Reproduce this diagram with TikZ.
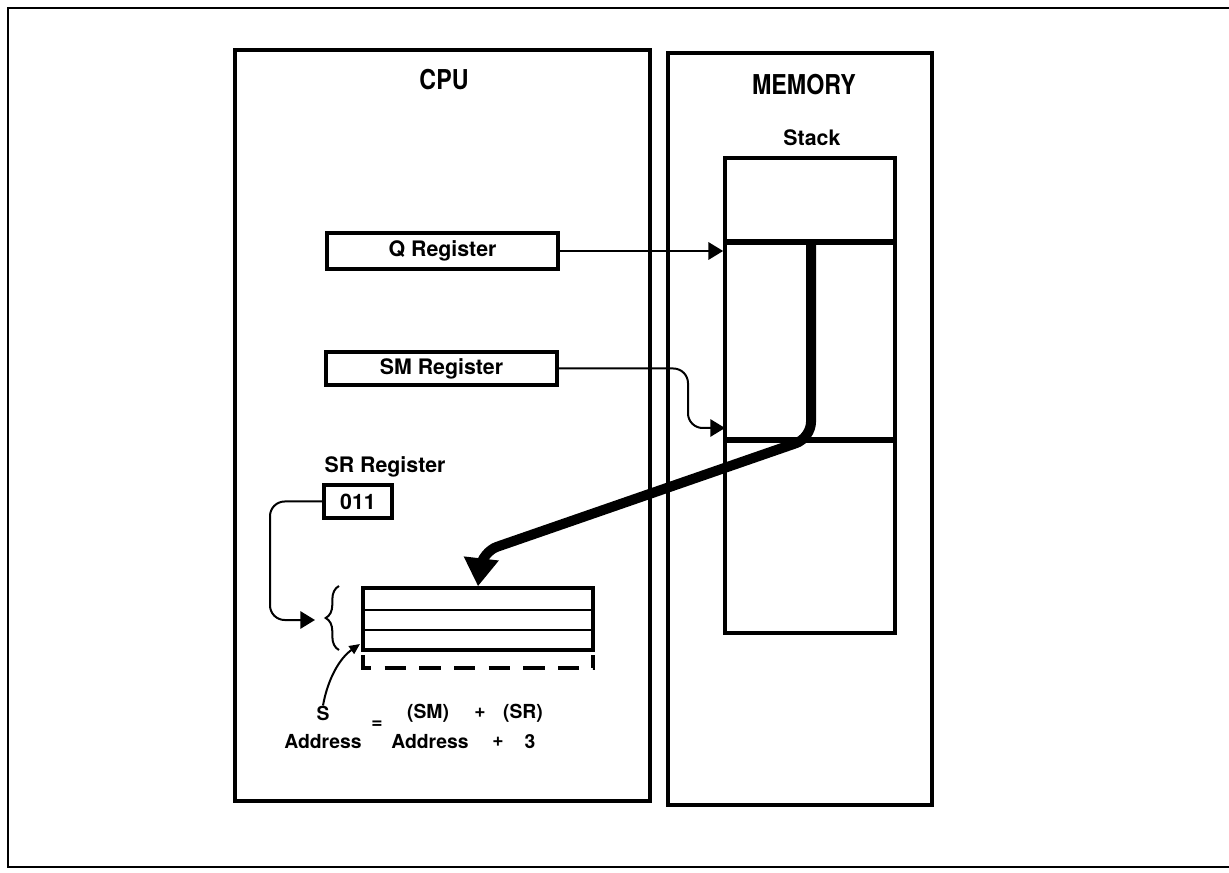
\documentclass[tikz,border=0pt]{standalone}
\usepackage{fontspec}
\setmainfont{TeX Gyre Heros}
\newfontfamily\titlefont{TeX Gyre Heros}[FakeStretch=0.85]
\usetikzlibrary{arrows.meta,decorations.pathreplacing}

\tikzset{
  regbox/.style={draw, line width=2.6pt, inner sep=0pt, font=\fontsize{16}{18}\selectfont\bfseries},
  lbl/.style={inner sep=0pt, font=\fontsize{16}{18}\selectfont\bfseries},
  eqn/.style={inner sep=0pt, font=\fontsize{14.5}{16}\selectfont\bfseries},
  ttl/.style={inner sep=0pt, font=\titlefont\fontsize{20.5}{22}\selectfont\bfseries},
  link/.style={line width=1.5pt, rounded corners=11pt, -{Triangle[length=11pt,width=13pt]}},
  bigarrow/.style={line width=7.5pt, rounded corners=12pt, -{Triangle[length=21pt,width=25pt]}},
}

\begin{document}
\begin{tikzpicture}[x=0.75pt,y=0.75pt,yscale=-1,xscale=1]
\useasboundingbox (0,0) rectangle (1229,873);

%Frame
\draw[line width=2.2pt] (1229,8) -- (8,8) -- (8,867) -- (1229,867);
%CPU and MEMORY boxes
\draw[line width=2.8pt] (235,50) rectangle (650,801);
\draw[line width=2.8pt] (668,53) rectangle (932,805);

% Titles
\node[ttl] (cpu) at (444,80) {CPU};
\node[ttl] (mem) at (804,85) {MEMORY};
\node[lbl] (stk) at (812,138) {Stack};

%Stack
\node[draw, line width=2.8pt, minimum width=127.5pt, minimum height=356pt] (stack) at (810,395.5) {};
\draw[line width=4.6pt] (725,242) -- (895,242);
\draw[line width=4.6pt] (725,440) -- (895,440);

%Registers
\node[regbox, minimum width=173pt, minimum height=27pt] (qreg) at (442.5,251) {Q Register};
\node[regbox, minimum width=173pt, minimum height=25pt] (smreg) at (441.5,368.5) {SM Register};
\node[lbl] (srlbl) at (385,467) {SR Register};
\node[regbox, minimum width=51pt, minimum height=25pt] (srreg) at (358,501.5) {011};

%Stack words in CPU
\node[draw, line width=2.6pt, minimum width=172.5pt, minimum height=46.5pt] (sbox) at (478,619) {};
\draw[line width=1.6pt] (363,610) -- (593,610);
\draw[line width=1.6pt] (363,630) -- (593,630);
\draw[line width=2.8pt, dash pattern=on 16pt off 10pt] (363,655) -- (363,668) -- (593,668) -- (593,655);
\draw[decorate, decoration={brace, amplitude=10pt}, line width=1.5pt] (339,650) -- (339,586);

%Connectors
\coordinate (smtip) at (725,428);
\coordinate (srtip) at (315,620);
\draw[link] (qreg.east) -- (qreg.east -| stack.west);
\draw[link] (smreg.east) -| (688,428) -- (smtip);
\draw[link] (srreg.west) -| (270,620) -- (srtip);
\draw[bigarrow] (811,242) -- (811,438) -- (482,552) -- (sbox.north);

% Text Node
\node[eqn] (s) at (323,713) {S};
\node[eqn] (saddr) at (323,742) {Address};
\node[eqn] (eq) at (377,725) {=};
\node[eqn] (smpar) at (428,713) {(SM)};
\node[eqn] (plus1) at (480,713) {+};
\node[eqn] (srpar) at (523,713) {(SR)};
\node[eqn] (smaddr) at (430,742) {Address};
\node[eqn] (plus2) at (498,742) {+};
\node[eqn] (three) at (530,742) {3};

\coordinate (sptr) at (360,644);
\draw[line width=1.5pt, -{Triangle[length=8pt,width=7pt]}] (s.north) .. controls (328,678) and (340,658) .. (sptr);

\end{tikzpicture}
\end{document}
